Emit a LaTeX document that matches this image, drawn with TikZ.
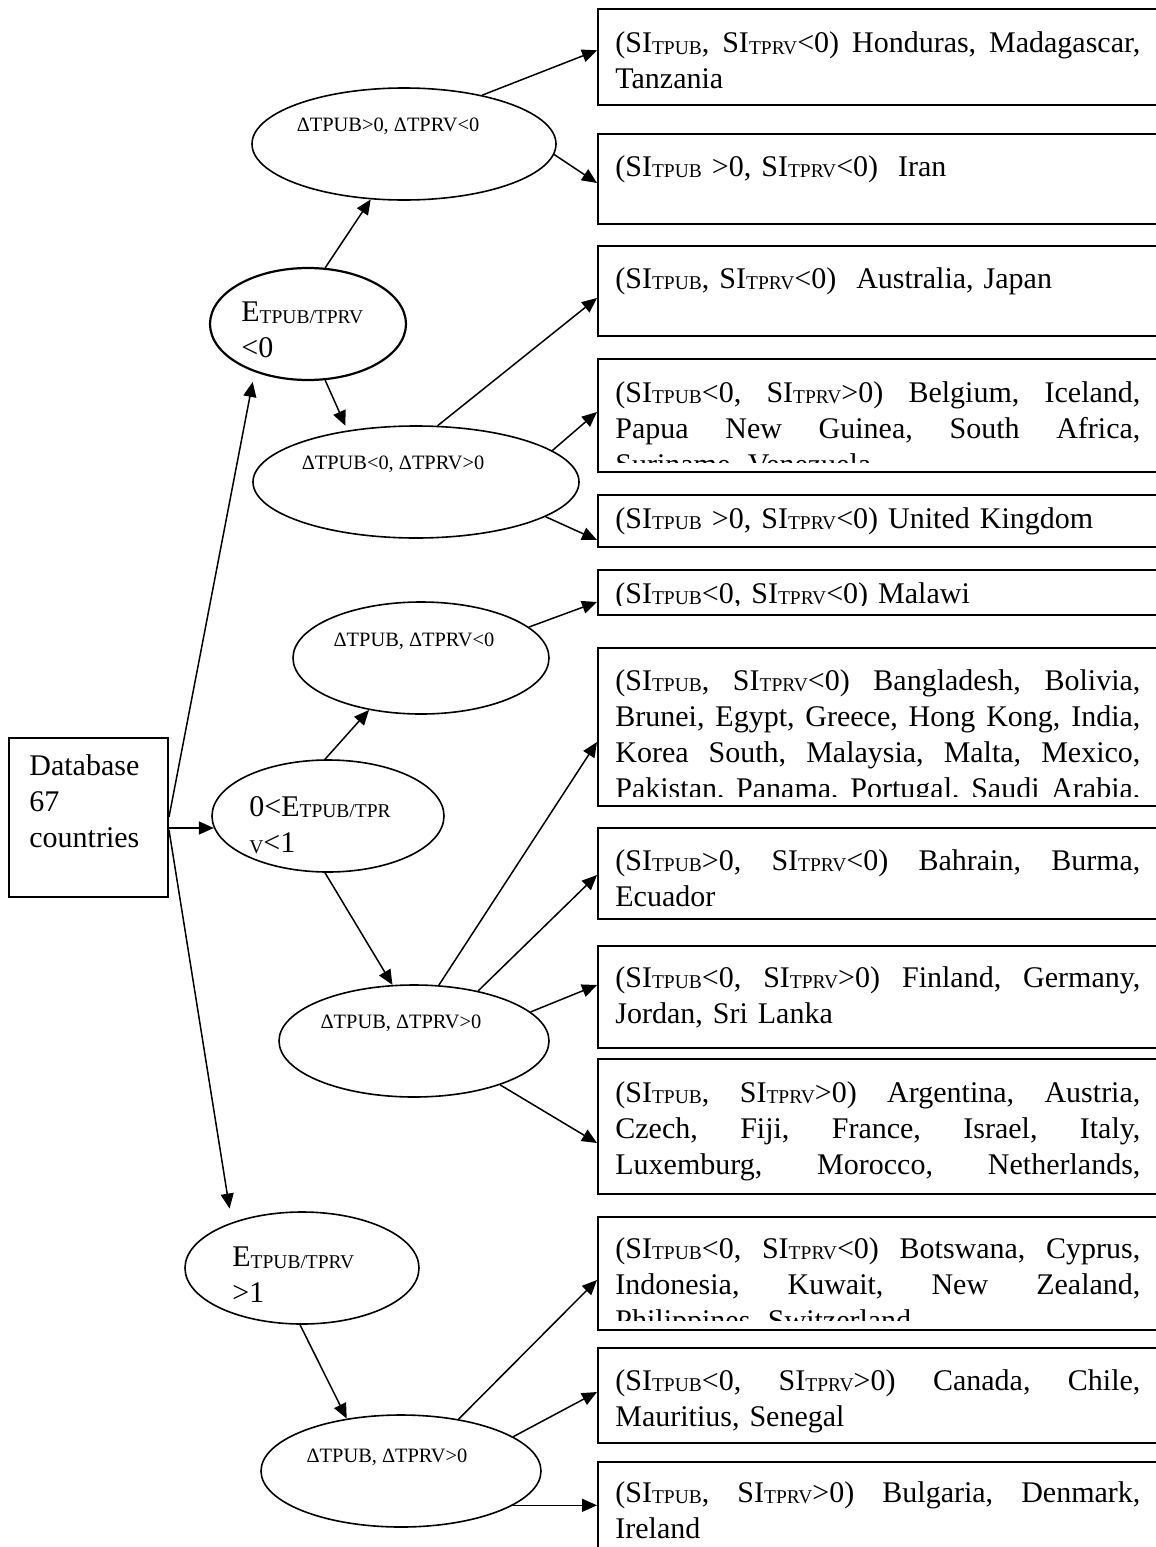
\documentclass[tikz,border=0pt]{standalone}
\usepackage{fontspec}
\setmainfont{Liberation Serif}
\usetikzlibrary{shapes.geometric,arrows.meta,calc}
\newcommand\idx[1]{\raisebox{-0.8pt}{\fontsize{9.75}{9.75}\selectfont #1}}
\newcommand\jl[1]{\leavevmode\hbox to 262.5pt{\frenchspacing\spaceskip=0.25em plus 1fil\relax #1}}
\newcommand\resbox[5]{%
  \node[frame, minimum height={(#3-#2)*0.5pt}] (#1) at (597,#2) {};
  \begin{scope}
    \clip (597,#2) rectangle (1156,{#3-9});
    \node[boxtext] (#1t) at (615,{#2+#4-11}) {#5};
  \end{scope}}
\begin{document}
\begin{tikzpicture}[x=0.5pt, y=-0.5pt,
  frame/.style={draw, line width=1pt, inner sep=0pt, anchor=north west, minimum width=290pt},
  oval/.style={draw, ellipse, line width=0.8pt, inner sep=0pt, minimum height=56pt},
  boxtext/.style={anchor=north west, inner sep=0pt, text width=262.5pt, align=left, font=\fontsize{15}{18}\selectfont},
  condtext/.style={inner sep=0pt, font=\fontsize{10.2}{11}\selectfont},
  ratiotext/.style={anchor=west, inner sep=0pt, align=left, font=\fontsize{15}{18}\selectfont},
  flow/.style={-{Triangle[length=7.5pt,width=6.5pt]}, line width=0.75pt}]
\useasboundingbox (0,0) rectangle (1156,1547);

\node[frame, minimum width=79.5pt, minimum height=79.5pt] (db) at (8,737) {};
\node[ratiotext] (dbt) at (29,801) {Database\\67\\countries};

\node[oval, minimum width=152pt] (e1) at (404,144) {};
\node[oval, minimum width=98pt, line width=1.1pt] (e2) at (308,324) {};
\node[oval, minimum width=163pt] (e3) at (416,482) {};
\node[oval, minimum width=128pt] (e4) at (421,658) {};
\node[oval, minimum width=116pt] (e5) at (328,816) {};
\node[oval, minimum width=135pt] (e6) at (414,1041) {};
\node[oval, minimum width=117pt] (e7) at (302,1268) {};
\node[oval, minimum width=140pt] (e8) at (401,1471) {};

\node[condtext] (e1t) at ($(e1)+(-16,-18)$) {ΔTPUB>0, ΔTPRV<0};
\node[ratiotext] (e2t) at ($(e2)+(-67,6)$) {E\idx{TPUB/TPRV}\\<0};
\node[condtext] (e3t) at ($(e3)+(-23,-18)$) {ΔTPUB<0, ΔTPRV>0};
\node[condtext] (e4t) at ($(e4)+(-7,-17)$) {ΔTPUB, ΔTPRV<0};
\node[ratiotext] (e5t) at ($(e5)+(-79,9)$) {0<E\idx{TPUB/TPR}\\\idx{V}<1};
\node[condtext] (e6t) at ($(e6)+(-13,-18)$) {ΔTPUB, ΔTPRV>0};
\node[ratiotext] (e7t) at ($(e7)+(-70,7)$) {E\idx{TPUB/TPRV}\\>1};
\node[condtext] (e8t) at ($(e8)+(-14,-14)$) {ΔTPUB, ΔTPRV>0};

\resbox{b1}{8.3}{104}{34}{\jl{(SI\idx{TPUB}, SI\idx{TPRV}<0) Honduras, Madagascar,}\\Tanzania}
\resbox{b2}{133}{223}{33}{(SI\idx{TPUB} >0, SI\idx{TPRV}<0)~ Iran}
\resbox{b3}{245}{335}{33}{(SI\idx{TPUB}, SI\idx{TPRV}<0)~ Australia, Japan}
\resbox{b4}{358}{471}{34}{\jl{(SI\idx{TPUB}<0, SI\idx{TPRV}>0) Belgium, Iceland,}\\\jl{Papua New Guinea, South Africa,}\\Suriname, Venezuela}
\resbox{b5}{494}{546}{24}{(SI\idx{TPUB} >0, SI\idx{TPRV}<0) United Kingdom}
\resbox{b6}{569}{614}{24}{(SI\idx{TPUB}<0, SI\idx{TPRV}<0) Malawi}
\resbox{b7}{647}{805}{33}{\jl{(SI\idx{TPUB}, SI\idx{TPRV}<0) Bangladesh, Bolivia,}\\\jl{Brunei, Egypt, Greece, Hong Kong, India,}\\\jl{Korea South, Malaysia, Malta, Mexico,}\\\jl{Pakistan, Panama, Portugal, Saudi Arabia,}}
\resbox{b8}{827}{918}{33}{\jl{(SI\idx{TPUB}>0, SI\idx{TPRV}<0) Bahrain, Burma,}\\Ecuador}
\resbox{b9}{945}{1047}{32}{\jl{(SI\idx{TPUB}<0, SI\idx{TPRV}>0) Finland, Germany,}\\Jordan, Sri Lanka}
\resbox{b10}{1058}{1193}{34}{\jl{(SI\idx{TPUB}, SI\idx{TPRV}>0) Argentina, Austria,}\\\jl{Czech, Fiji, France, Israel, Italy,}\\\jl{Luxemburg, Morocco, Netherlands,}}
\resbox{b11}{1216}{1329}{32}{\jl{(SI\idx{TPUB}<0, SI\idx{TPRV}<0) Botswana, Cyprus,}\\\jl{Indonesia, Kuwait, New Zealand,}\\Philippines, Switzerland}
\resbox{b12}{1347}{1442}{33}{\jl{(SI\idx{TPUB}<0, SI\idx{TPRV}>0) Canada, Chile,}\\Mauritius, Senegal}
\resbox{b13}{1461}{1565}{31}{\jl{(SI\idx{TPUB}, SI\idx{TPRV}>0) Bulgaria, Denmark,}\\Ireland}

\coordinate (dbup) at ($(db.north east)+(0,80)$);
\coordinate (dbdown) at ($(db.north east)+(0,93)$);
\draw[flow, shorten >=5pt] (dbup) -- (e2.222);
\draw[flow] (e5.186 -| db.east) -- (e5.186);
\draw[flow, shorten >=7pt] (dbdown) -- (e7.147);

\draw[flow] (e2.73) -- (e1.239);
\draw[flow, shorten >=2.5pt] (e2.287) -- (e3.143);
\draw[flow] (e1.32) -- ($(b1.north west)+(0,42)$);
\draw[flow] (e1.356) -- ($(b2.north west)+(0,50)$);
\draw[flow] (e3.69) -- ($(b3.north west)+(0,53)$);
\draw[flow] (e3.13) -- ($(b4.north west)+(0,54)$);
\draw[flow] (e3.345) -- ($(b5.north west)+(0,46)$);

\draw[flow] (e5.93) -- (e4.225);
\draw[flow] (e5.267) -- (e6.111);
\draw[flow] (e4.16) -- ($(b6.north west)+(0,33)$);
\draw[flow] (e6.66) -- ($(b7.north west)+(0,95)$);
\draw[flow] (e6.38) -- ($(b8.north west)+(0,48)$);
\draw[flow] (e6.14) -- ($(b9.north west)+(0,40)$);
\draw[flow] (e6.333) -- ($(b10.north west)+(0,85)$);

\draw[flow] (e7.268) -- (e8.136);
\draw[flow] (e8.42) -- ($(b11.north west)+(0,64)$);
\draw[flow] (e8.17) -- ($(b12.north west)+(0,45)$);
\draw[flow] (e8.343) -- (e8.343 -| b13.west);
\end{tikzpicture}
\end{document}
